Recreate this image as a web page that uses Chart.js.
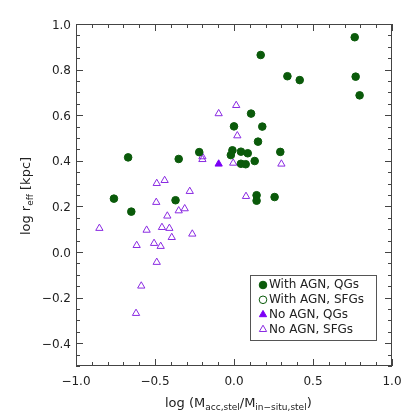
<!DOCTYPE html>
<html lang="en">
  <head>
    <meta charset="UTF-8" />
    <title>log r_eff vs accreted fraction</title>
    <script src="https://cdn.jsdelivr.net/npm/chart.js"></script>
    <style>
      html, body { margin: 0; padding: 0; background: #fff; }
      #wrap { width: 415px; height: 415px; }
    </style>
  </head>
  <body>
    <div id="wrap"><canvas id="chart" width="415" height="415"></canvas></div>

    <script>
      // With AGN, QGs (filled green circles)
      var agnQgX = [-0.76, -0.67, -0.65, -0.37, -0.35, -0.22, 0.00, -0.01, -0.02, 0.044, 0.087,
                    0.044, 0.074, 0.131, 0.108, 0.179, 0.152, 0.293, 0.143, 0.143, 0.257,
                    0.169, 0.338, 0.416, 0.764, 0.770, 0.795];
      var agnQgY = [0.234, 0.415, 0.177, 0.227, 0.408, 0.438, 0.551, 0.446, 0.425, 0.440, 0.433,
                    0.387, 0.385, 0.399, 0.607, 0.550, 0.484, 0.439, 0.249, 0.225, 0.241,
                    0.864, 0.771, 0.754, 0.942, 0.769, 0.687];

      // With AGN, SFGs (open green circles) - none in this plot
      var agnSfgX = [];
      var agnSfgY = [];

      // No AGN, QGs (filled purple triangle)
      var noAgnQgX = [-0.097];
      var noAgnQgY = [0.386];

      // No AGN, SFGs (open purple triangles)
      var noAgnSfgX = [-0.097, 0.014, 0.021, -0.200, -0.200, -0.005, 0.300, 0.076, -0.489, -0.439,
                       -0.280, -0.492, -0.350, -0.312, -0.422, -0.852, -0.553, -0.456, -0.409,
                       -0.394, -0.264, -0.616, -0.506, -0.464, -0.489, -0.587, -0.620];
      var noAgnSfgY = [0.607, 0.643, 0.510, 0.418, 0.406, 0.390, 0.386, 0.244, 0.301, 0.314,
                       0.266, 0.218, 0.181, 0.190, 0.158, 0.104, 0.096, 0.108, 0.104,
                       0.064, 0.079, 0.029, 0.038, 0.025, -0.045, -0.149, -0.269];

      // axis tick labels
      var xTicks = [-1.0, -0.5, 0.0, 0.5, 1.0];
      var yTicks = [-0.4, -0.2, 0.0, 0.2, 0.4, 0.6, 0.8, 1.0];

      var green = "#0a5a0a";
      var purple = "#8a2be2";
      var purpleFill = "#7b00f5";

      function pts(xs, ys) {
        return xs.map(function (v, i) { return { x: v, y: ys[i] }; });
      }

      function fmt(v) {
        var s = Math.abs(v).toFixed(1);
        return v < -1e-9 ? "\u2212" + s : s;
      }

      var fontFamily = "'DejaVu Sans', sans-serif";

      // draw a string with a subscript part, returns the advanced x
      function drawRich(ctx, parts, x, y) {
        parts.forEach(function (p) {
          ctx.font = (p.sub ? "9px " : "13px ") + fontFamily;
          ctx.fillText(p.t, x, y + (p.sub ? 3.5 : 0));
          x += ctx.measureText(p.t).width;
        });
        return x;
      }
      function richWidth(ctx, parts) {
        var w = 0;
        parts.forEach(function (p) {
          ctx.font = (p.sub ? "9px " : "13px ") + fontFamily;
          w += ctx.measureText(p.t).width;
        });
        return w;
      }

      // frame with inward ticks on all four sides, axis titles and legend box
      var idlFrame = {
        id: "idlFrame",
        afterDraw: function (chart) {
          var ctx = chart.ctx, a = chart.chartArea;
          var xs = chart.scales.x, ys = chart.scales.y;
          ctx.save();
          ctx.strokeStyle = "#444";
          ctx.lineWidth = 1;
          ctx.strokeRect(Math.round(a.left) + 0.5, Math.round(a.top) + 0.5,
                         Math.round(a.width) - 1, Math.round(a.height) - 1);

          ctx.beginPath();
          var i, px, len;
          for (i = -10; i <= 10; i++) {
            px = Math.round(xs.getPixelForValue(i / 10)) + 0.5;
            len = i % 5 === 0 ? 7 : 4;
            ctx.moveTo(px, a.bottom); ctx.lineTo(px, a.bottom - len);
            ctx.moveTo(px, a.top); ctx.lineTo(px, a.top + len);
          }
          for (i = -10; i <= 20; i++) {
            px = Math.round(ys.getPixelForValue(i / 20)) + 0.5;
            len = (i + 20) % 4 === 0 ? 7 : 4;
            ctx.moveTo(a.left, px); ctx.lineTo(a.left + len, px);
            ctx.moveTo(a.right, px); ctx.lineTo(a.right - len, px);
          }
          ctx.stroke();

          // axis titles
          ctx.fillStyle = "#222";
          ctx.textBaseline = "middle";
          ctx.textAlign = "left";
          var xt = [{ t: "log (M" }, { t: "acc,stel", sub: true }, { t: "/M" },
                    { t: "in\u2212situ,stel", sub: true }, { t: ")" }];
          var w = richWidth(ctx, xt);
          drawRich(ctx, xt, 165, 404);

          var yt = [{ t: "log r" }, { t: "eff", sub: true }, { t: " [kpc]" }];
          w = richWidth(ctx, yt);
          ctx.save();
          ctx.translate(27, 196);
          ctx.rotate(-Math.PI / 2);
          drawRich(ctx, yt, -w / 2, 0);
          ctx.restore();

          // legend
          var bx = 250, by = 275, bw = 126, bh = 65;
          ctx.fillStyle = "#fff";
          ctx.fillRect(bx, by, bw, bh);
          ctx.strokeStyle = "#555";
          ctx.strokeRect(bx + 0.5, by + 0.5, bw, bh);
          ctx.font = "12px " + fontFamily;
          chart.data.datasets.forEach(function (ds, k) {
            var ly = by + 10 + k * 14.8;
            ctx.fillStyle = ds.backgroundColor;
            ctx.strokeStyle = ds.borderColor;
            ctx.lineWidth = ds.borderWidth;
            Chart.helpers.drawPoint(ctx, {
              pointStyle: ds.pointStyle, radius: ds.pointRadius, rotation: 0,
              borderWidth: ds.borderWidth
            }, 263, ly);
            ctx.fillStyle = "#222";
            ctx.fillText(ds.label, 269, ly);
          });
          ctx.restore();
        }
      };

      new Chart(document.getElementById("chart"), {
        type: "scatter",
        data: {
          datasets: [
            {
              label: "With AGN, QGs",
              data: pts(agnQgX, agnQgY),
              pointStyle: "circle",
              pointRadius: 3.8,
              backgroundColor: green,
              borderColor: green,
              borderWidth: 1,
            },
            {
              label: "With AGN, SFGs",
              data: pts(agnSfgX, agnSfgY),
              pointStyle: "circle",
              pointRadius: 3.8,
              backgroundColor: "rgba(0,0,0,0)",
              borderColor: green,
              borderWidth: 1,
            },
            {
              label: "No AGN, QGs",
              data: pts(noAgnQgX, noAgnQgY),
              pointStyle: "triangle",
              pointRadius: 4.2,
              backgroundColor: purpleFill,
              borderColor: purpleFill,
              borderWidth: 1,
            },
            {
              label: "No AGN, SFGs",
              data: pts(noAgnSfgX, noAgnSfgY),
              pointStyle: "triangle",
              pointRadius: 4.2,
              backgroundColor: "rgba(0,0,0,0)",
              borderColor: purple,
              borderWidth: 1,
            },
          ],
        },
        options: {
          responsive: false,
          animation: false,
          layout: { padding: { left: 0, top: 24, right: 23, bottom: 0 } },
          plugins: {
            legend: { display: false },
            tooltip: { enabled: false },
          },
          scales: {
            x: {
              type: "linear",
              min: -1.0,
              max: 1.0,
              grid: { display: false, drawTicks: false },
              border: { display: false },
              afterBuildTicks: function (s) {
                s.ticks = xTicks.map(function (v) { return { value: v }; });
              },
              afterFit: function (s) { s.height = 49; },
              ticks: {
                padding: 9,
                color: "#222",
                font: { family: fontFamily, size: 12 },
                maxRotation: 0,
                callback: function (v) { return fmt(v); },
              },
            },
            y: {
              type: "linear",
              min: -0.5,
              max: 1.0,
              grid: { display: false, drawTicks: false },
              border: { display: false },
              afterBuildTicks: function (s) {
                s.ticks = yTicks.map(function (v) { return { value: v }; });
              },
              afterFit: function (s) { s.width = 76; },
              ticks: {
                padding: 5,
                labelOffset: 1.5,
                color: "#222",
                font: { family: fontFamily, size: 12 },
                callback: function (v) { return fmt(v); },
              },
            },
          },
        },
        plugins: [idlFrame],
      });
    </script>
  </body>
</html>
